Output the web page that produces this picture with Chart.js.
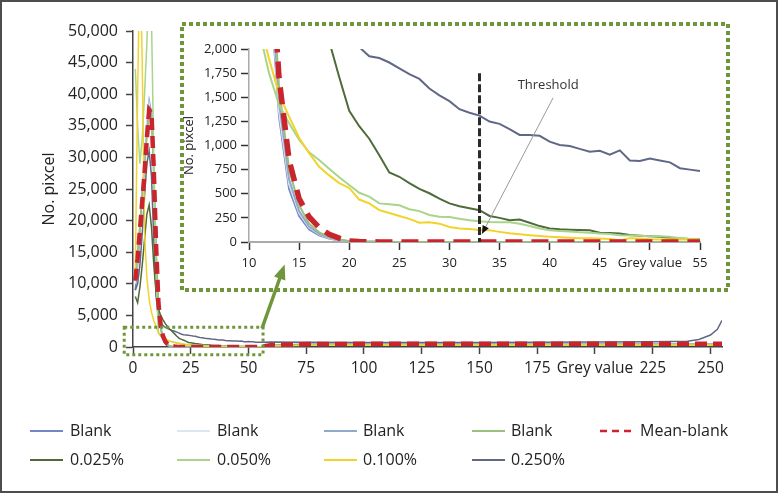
<!DOCTYPE html>
<html><head><meta charset="utf-8">
<script src="https://cdn.jsdelivr.net/npm/chart.js@4/dist/chart.umd.min.js"></script>
<style>
html,body{margin:0;padding:0;background:#fff;}
#wrap{position:relative;width:778px;height:493px;overflow:hidden;font-family:"Open Sans",sans-serif;background:#fff;}
#frame{position:absolute;left:0;top:0;width:778px;height:493px;box-sizing:border-box;border:2px solid #4d4d4d;pointer-events:none;}
#main{position:absolute;left:0;top:0;}
#inset{position:absolute;left:178px;top:20px;}
.lg{position:absolute;font-size:16px;color:#222;line-height:20px;white-space:nowrap;}
.lgl{position:absolute;}
</style></head>
<body>
<div id="wrap">
  <canvas id="main" width="778" height="493"></canvas>
  <canvas id="inset" width="552" height="272"></canvas>
  <div id="legend"></div>
  <div id="frame"></div>
</div>
<script>
// ---------- data ----------
const GREY = [1,2,3,4,5,6,7,8,9,10,11,12,13,14,15,16,17,18,19,20,
  21,22,23,24,25,26,27,28,29,30,31,32,33,34,35,36,37,38,39,40,
  41,42,43,44,45,46,47,48,49,50,51,52,53,54,55,
  60,75,100,125,150,175,200,225,240,245,250,253,255];

const BLANK_1 = [9000,13000,18000,24000,29500,35000,39000,37000,27000,14000,6000,2800,1300,550,270,130,70,35,15,5,
  3,2,2,1,1,1,0,0,0,0,0,0,0,0,0,0,0,0,0,0,0,0,0,0,0,0,0,0,0,0,0,0,0,0,0,
  250,420,450,450,450,450,450,450,450,450,450,450,450];
const BLANK_2 = [10000,14000,19000,25000,30000,35500,38500,36000,26000,13500,6200,2900,1350,600,300,150,80,40,18,6,
  3,2,2,1,1,1,0,0,0,0,0,0,0,0,0,0,0,0,0,0,0,0,0,0,0,0,0,0,0,0,0,0,0,0,0,
  250,420,440,440,440,440,440,440,440,440,440,440,440];
const BLANK_3 = [11000,15000,19500,24500,29000,34000,38000,37500,28500,15000,6500,3000,1450,650,320,160,85,45,20,8,
  4,3,2,1,1,1,0,0,0,0,0,0,0,0,0,0,0,0,0,0,0,0,0,0,0,0,0,0,0,0,0,0,0,0,0,
  250,420,450,450,450,450,450,450,450,450,450,450,450];
const BLANK_4 = [10500,14500,19000,23500,28000,33000,36500,36000,27500,15500,7000,3300,1600,750,380,190,100,50,25,10,
  5,3,2,2,1,1,0,0,0,0,0,0,0,0,0,0,0,0,0,0,0,0,0,0,0,0,0,0,0,0,0,0,0,0,0,
  250,420,450,450,450,450,450,450,450,450,450,450,450];
const MEAN_BLANK = [10500,14000,18500,23000,27500,33000,37500,37000,28000,16000,7000,3300,1700,850,450,260,150,80,40,10,
  4,2,1,1,0,0,0,0,0,0,0,0,0,0,0,0,0,0,0,0,0,0,0,0,0,0,0,0,0,0,0,0,0,0,0,
  300,480,500,500,500,500,500,500,500,500,500,500,500];
const P025 = [8000,7000,9500,13000,17000,21000,22500,19000,13000,8500,
  6000,5000,4300,3700,3200,2800,2450,2080,1710,1360,
  1200,1070,900,720,676,610,550,505,450,400,
  370,350,330,270,250,225,232,200,165,140,
  132,128,125,121,97,92,87,72,65,59,
  55,45,35,30,28,
  200,330,350,350,350,350,350,350,350,350,350,350,350];
const P050 = [44000,35000,29000,33000,40000,48000,60000,52000,30000,11000,
  2200,1750,1420,1230,1060,930,850,760,670,590,
  510,470,400,390,380,340,320,280,262,258,
  240,225,215,208,205,205,190,165,140,121,
  115,110,100,95,87,82,69,68,64,60,
  59,55,40,32,28,
  200,330,350,350,350,350,350,350,350,350,350,350,350];
const P100 = [12000,40000,62000,45000,18000,11000,7500,5500,4200,3200,
  2300,1900,1530,1300,1080,920,780,690,610,560,
  440,400,330,300,270,240,200,205,190,155,
  140,135,125,122,105,90,80,70,62,55,
  50,45,40,38,35,30,17,40,35,28,
  26,28,27,25,24,
  150,260,280,280,280,280,280,280,280,280,280,280,280];
const P250 = [9000,10000,13000,18000,24000,29000,31000,27000,17000,8000,
  4500,3800,3400,3100,2900,2750,2620,2500,2350,2200,
  2020,1924,1906,1860,1800,1740,1690,1590,1520,1460,
  1376,1340,1310,1248,1224,1170,1109,1109,1100,1040,
  1005,995,965,936,946,905,950,845,840,866,
  845,825,765,750,735,
  780,760,720,700,720,760,790,850,900,1200,1900,2800,4200];

const MAIN_X_TICKS = [0,25,50,75,100,125,150,175,200,225,250];
const MAIN_X_LABELS = ['0','25','50','75','100','125','150','175','Grey value','225','250'];
const MAIN_Y_TICKS = [0,5000,10000,15000,20000,25000,30000,35000,40000,45000,50000];
const INSET_X_TICKS = [10,15,20,25,30,35,40,45,50,55];
const INSET_X_LABELS = ['10','15','20','25','30','35','40','45','Grey value','55'];
const INSET_Y_TICKS = [0,250,500,750,1000,1250,1500,1750,2000];
const Y_TITLE = 'No. pixcel';
const THRESHOLD_X = 33, THRESHOLD_TOP = 1750;
const THRESHOLD_TEXT = 'Threshold';

// ---------- styles ----------
const FONT = '"Open Sans", sans-serif';
const SERIES = [
  {label:'Blank', values:BLANK_1, color:'#7586C4', order:8, slot:[0,0]},
  {label:'Blank', values:BLANK_2, color:'#DCE6F2', order:7, slot:[1,0]},
  {label:'Blank', values:BLANK_3, color:'#8FAACB', order:6, slot:[2,0]},
  {label:'Blank', values:BLANK_4, color:'#9CBF82', order:5, slot:[3,0]},
  {label:'Mean-blank', values:MEAN_BLANK, color:'#C8252C', order:0, slot:[4,0], dashed:true},
  {label:'0.025%', values:P025, color:'#4F6B3A', order:3, slot:[0,1]},
  {label:'0.050%', values:P050, color:'#A8D58A', order:2, slot:[1,1]},
  {label:'0.100%', values:P100, color:'#F2D32B', order:1, slot:[2,1]},
  {label:'0.250%', values:P250, color:'#616887', order:4, slot:[3,1]},
];

function buildDatasets(inset){
  return SERIES.map(s=>({
    label:s.label,
    data:GREY.map((x,i)=>({x:x,y:s.values[i]})),
    borderColor:s.color,
    backgroundColor:s.color,
    borderWidth: s.dashed ? (inset?5.5:4.5) : (inset?2:1.5),
    borderDash: s.dashed ? (inset?[17,9]:[12,6]) : [],
    pointRadius:0, fill:false, tension:0, order:s.order
  }));
}
function fixTicks(list){ return s => { s.ticks = list.map(v=>({value:v})); }; }
const fmt = v => Number(v).toLocaleString('en-US');

// ---------- main chart decorations ----------
const ZOOM_BOX = {xMin:-3.8, xMax:56.3, yMin:-1220, yMax:3120};
const GREEN = '#70963C';
const mainDeco = {
  id:'mainDeco',
  afterDraw(chart){
    const ctx = chart.ctx, xs = chart.scales.x, ys = chart.scales.y;
    ctx.save();
    const x0 = xs.getPixelForValue(ZOOM_BOX.xMin), x1 = xs.getPixelForValue(ZOOM_BOX.xMax);
    const y0 = ys.getPixelForValue(ZOOM_BOX.yMax), y1 = ys.getPixelForValue(ZOOM_BOX.yMin);
    ctx.strokeStyle = GREEN; ctx.lineWidth = 3; ctx.setLineDash([3,3]);
    ctx.strokeRect(x0, y0, x1-x0, y1-y0);
    ctx.setLineDash([]); ctx.lineWidth = 3.5; ctx.lineCap = 'butt';
    const ax = x1-1, ay = y0+1, bx = 282, by = 272;
    ctx.beginPath(); ctx.moveTo(ax, ay); ctx.lineTo(bx, by); ctx.stroke();
    const ang = Math.atan2(by-ay, bx-ax);
    const tx = bx + Math.cos(ang)*8, ty = by + Math.sin(ang)*8;
    ctx.fillStyle = GREEN;
    ctx.beginPath();
    ctx.moveTo(tx, ty);
    ctx.lineTo(tx - Math.cos(ang)*15 + Math.cos(ang+Math.PI/2)*6, ty - Math.sin(ang)*15 + Math.sin(ang+Math.PI/2)*6);
    ctx.lineTo(tx - Math.cos(ang)*15 - Math.cos(ang+Math.PI/2)*6, ty - Math.sin(ang)*15 - Math.sin(ang+Math.PI/2)*6);
    ctx.closePath(); ctx.fill();
    ctx.restore();
  }
};

new Chart(document.getElementById('main'), {
  type:'line',
  data:{datasets:buildDatasets(false)},
  options:{
    responsive:false, animation:false, events:[],
    layout:{padding:{left:40, top:31, right:56, bottom:100}},
    plugins:{legend:{display:false}, tooltip:{enabled:false}},
    scales:{
      x:{type:'linear', min:0, max:255,
        afterBuildTicks:fixTicks(MAIN_X_TICKS),
        afterFit:s=>{s.height=46;},
        ticks:{autoSkip:false, maxRotation:0, padding:5,
          callback:(v)=>MAIN_X_LABELS[MAIN_X_TICKS.indexOf(v)],
          font:{family:FONT, size:15.5}, color:'#222'},
        grid:{drawOnChartArea:false, tickLength:7, tickColor:'#444', tickWidth:1.5},
        border:{color:'#444', width:1.5}},
      y:{type:'linear', min:0, max:50000,
        afterBuildTicks:fixTicks(MAIN_Y_TICKS),
        afterFit:s=>{s.width=93;},
        ticks:{padding:8, callback:fmt, font:{family:FONT, size:16}, color:'#222'},
        grid:{drawOnChartArea:false, tickLength:7, tickColor:'#444', tickWidth:1.5},
        border:{color:'#444', width:1.5},
        title:{display:true, text:Y_TITLE, font:{family:FONT, size:16}, color:'#222', padding:0}}
    }
  },
  plugins:[mainDeco]
});

// ---------- inset chart ----------
const insetDeco = {
  id:'insetDeco',
  beforeDraw(chart){
    const ctx = chart.ctx;
    ctx.save();
    ctx.strokeStyle = GREEN; ctx.lineWidth = 4; ctx.setLineDash([4,3]);
    ctx.strokeRect(4, 4, 546, 266);
    ctx.restore();
  },
  afterDatasetsDraw(chart){
    const ctx = chart.ctx, xs = chart.scales.x, ys = chart.scales.y;
    ctx.save();
    const tx = xs.getPixelForValue(THRESHOLD_X);
    ctx.strokeStyle = '#2b2b2b'; ctx.lineWidth = 3; ctx.setLineDash([8,3]);
    ctx.beginPath(); ctx.moveTo(tx, ys.getPixelForValue(THRESHOLD_TOP)); ctx.lineTo(tx, ys.getPixelForValue(0)); ctx.stroke();
    ctx.setLineDash([]);
    ctx.font = '13px ' + FONT; ctx.fillStyle = '#333'; ctx.textAlign='center'; ctx.textBaseline='middle';
    ctx.fillText(THRESHOLD_TEXT, xs.getPixelForValue(39.85), ys.getPixelForValue(1620));
    const px0 = xs.getPixelForValue(40.35), py0 = ys.getPixelForValue(1495);
    const px1 = xs.getPixelForValue(33.25), py1 = ys.getPixelForValue(85);
    ctx.strokeStyle = '#9a9a9a'; ctx.lineWidth = 1;
    ctx.beginPath(); ctx.moveTo(px0, py0); ctx.lineTo(px1, py1); ctx.stroke();
    const ang = Math.atan2(py1-py0, px1-px0);
    ctx.fillStyle = '#111';
    ctx.beginPath();
    ctx.moveTo(px1, py1);
    ctx.lineTo(px1 - Math.cos(ang)*8 + Math.cos(ang+Math.PI/2)*3.5, py1 - Math.sin(ang)*8 + Math.sin(ang+Math.PI/2)*3.5);
    ctx.lineTo(px1 - Math.cos(ang)*8 - Math.cos(ang+Math.PI/2)*3.5, py1 - Math.sin(ang)*8 - Math.sin(ang+Math.PI/2)*3.5);
    ctx.closePath(); ctx.fill();
    ctx.restore();
  }
};

new Chart(document.getElementById('inset'), {
  type:'line',
  data:{datasets:buildDatasets(true)},
  options:{
    responsive:false, animation:false, events:[],
    layout:{padding:{left:4.5, top:29, right:30, bottom:8}},
    plugins:{legend:{display:false}, tooltip:{enabled:false}},
    scales:{
      x:{type:'linear', min:10, max:55,
        afterBuildTicks:fixTicks(INSET_X_TICKS),
        afterFit:s=>{s.height=42;},
        ticks:{autoSkip:false, maxRotation:0, padding:5,
          callback:(v)=>INSET_X_LABELS[INSET_X_TICKS.indexOf(v)],
          font:{family:FONT, size:13}, color:'#222'},
        grid:{drawOnChartArea:false, tickLength:8, tickColor:'#333', tickWidth:1.5},
        border:{color:'#aaaaaa', width:2}},
      y:{type:'linear', min:0, max:2000,
        afterBuildTicks:fixTicks(INSET_Y_TICKS),
        afterFit:s=>{s.width=66.5;},
        ticks:{padding:4, callback:fmt, font:{family:FONT, size:13}, color:'#222'},
        grid:{drawOnChartArea:false, tickLength:8, tickColor:'#333', tickWidth:1.5},
        border:{color:'#aaaaaa', width:1.5},
        title:{display:true, text:Y_TITLE, font:{family:FONT, size:13, lineHeight:1}, color:'#222', padding:0}}
    }
  },
  plugins:[insetDeco]
});

// ---------- legend (HTML) ----------
const LEG_LINE_X = [30,177,324,472,600];
const LEG_TEXT_X = [70,217,363,511,640];
const LEG_ROW_Y = [431,460];
const legend = document.getElementById('legend');
SERIES.forEach(s=>{
  const [c,r] = s.slot;
  const y = LEG_ROW_Y[r];
  const svg = document.createElementNS('http://www.w3.org/2000/svg','svg');
  svg.setAttribute('width','34'); svg.setAttribute('height','6');
  svg.setAttribute('class','lgl');
  svg.style.left = LEG_LINE_X[c]+'px'; svg.style.top = (y-3)+'px';
  const ln = document.createElementNS('http://www.w3.org/2000/svg','line');
  ln.setAttribute('x1','0'); ln.setAttribute('x2','33'); ln.setAttribute('y1','3'); ln.setAttribute('y2','3');
  ln.setAttribute('stroke', s.color); ln.setAttribute('stroke-width', s.dashed?'2.5':'2');
  if (s.dashed) ln.setAttribute('stroke-dasharray','7 5');
  svg.appendChild(ln); legend.appendChild(svg);
  const t = document.createElement('div');
  t.className='lg'; t.textContent = s.label;
  t.style.left = LEG_TEXT_X[c]+'px'; t.style.top = (y-11)+'px';
  legend.appendChild(t);
});
</script>
</body></html>
